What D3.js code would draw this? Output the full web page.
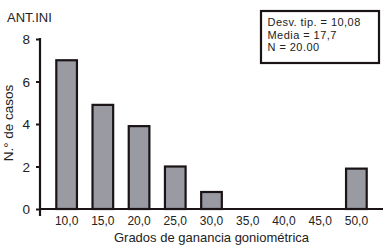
<!DOCTYPE html>
<html><head><meta charset="utf-8">
<script src="https://cdn.jsdelivr.net/npm/d3@7"></script>
<style>
body{margin:0;background:#fff;}
svg{display:block;font-family:Arial,"Liberation Sans",sans-serif;}
</style></head>
<body><svg id="c" width="390" height="251"></svg>
<script>
const categories = ["10,0","15,0","20,0","25,0","30,0","35,0","40,0","45,0","50,0"];
const counts = [7, 4.9, 3.9, 2, 0.8, 0, 0, 0, 1.9];
const yTicks = [0, 2, 4, 6, 8];
const title = "ANT.INI";
const statsLines = ["Desv. tip. = 10,08", "Media = 17,7", "N = 20.00"];
const xLabel = "Grados de ganancia goniométrica";
const yLabel = "N.° de casos";

const svg = d3.select("#c");
const x = d3.scaleBand().domain(categories).range([40, 383]).paddingInner(0.43).paddingOuter(0.45);
const y = d3.scaleLinear().domain([0, 8]).range([209, 39]);

// bars
svg.append("g").selectAll("rect").data(categories.map((c,i)=>({c, v:counts[i]})).filter(d=>d.v>0))
  .enter().append("rect")
  .attr("x", d=>x(d.c)).attr("width", x.bandwidth())
  .attr("y", d=>y(d.v)).attr("height", d=>y(0)-y(d.v))
  .attr("fill", "#9a9aa2").attr("stroke", "#1a1416").attr("stroke-width", 2.2);

// y axis
const ya = svg.append("g").attr("transform","translate(40,0)")
  .call(d3.axisLeft(y).tickValues(yTicks).tickSize(4).tickPadding(6).tickFormat(d3.format("d")));
ya.select(".domain").remove();
ya.selectAll(".tick line").attr("stroke","#1a1416").attr("stroke-width",2);
ya.selectAll(".tick text").attr("font-size","13.5px").attr("fill","#222").attr("font-family","Arial, Liberation Sans, sans-serif").attr("dy","0.36em");
svg.append("line").attr("x1",40).attr("x2",40).attr("y1",y(8)-1).attr("y2",216)
  .attr("stroke","#1a1416").attr("stroke-width",2.2);

// x axis
const xa = svg.append("g").attr("transform","translate(0,209)")
  .call(d3.axisBottom(x).tickSize(0).tickPadding(7));
xa.select(".domain").remove();
xa.selectAll(".tick text").attr("font-size","12px").attr("fill","#222").attr("font-family","Arial, Liberation Sans, sans-serif");
svg.append("line").attr("x1",39).attr("x2",383).attr("y1",209).attr("y2",209)
  .attr("stroke","#1a1416").attr("stroke-width",2.2);

// labels
svg.append("text").attr("x",7).attr("y",22).attr("font-size","13px").attr("fill","#222").text(title);
svg.append("text").attr("x",211.5).attr("y",242).attr("text-anchor","middle").attr("font-size","13px").attr("fill","#222").text(xLabel);
svg.append("text").attr("transform","translate(13,123) rotate(-90)").attr("text-anchor","middle").attr("font-size","13.5px").attr("fill","#222").text(yLabel);

// stats box
svg.append("rect").attr("x",261).attr("y",11).attr("width",118).attr("height",52)
  .attr("fill","#fff").attr("stroke","#1a1416").attr("stroke-width",2.2);
svg.append("g").selectAll("text").data(statsLines).enter().append("text")
  .attr("x",267.5).attr("y",(d,i)=>26+i*12.6).attr("font-size","11px").attr("letter-spacing","0.45px")
  .attr("fill","#222").text(d=>d);
</script></body></html>
